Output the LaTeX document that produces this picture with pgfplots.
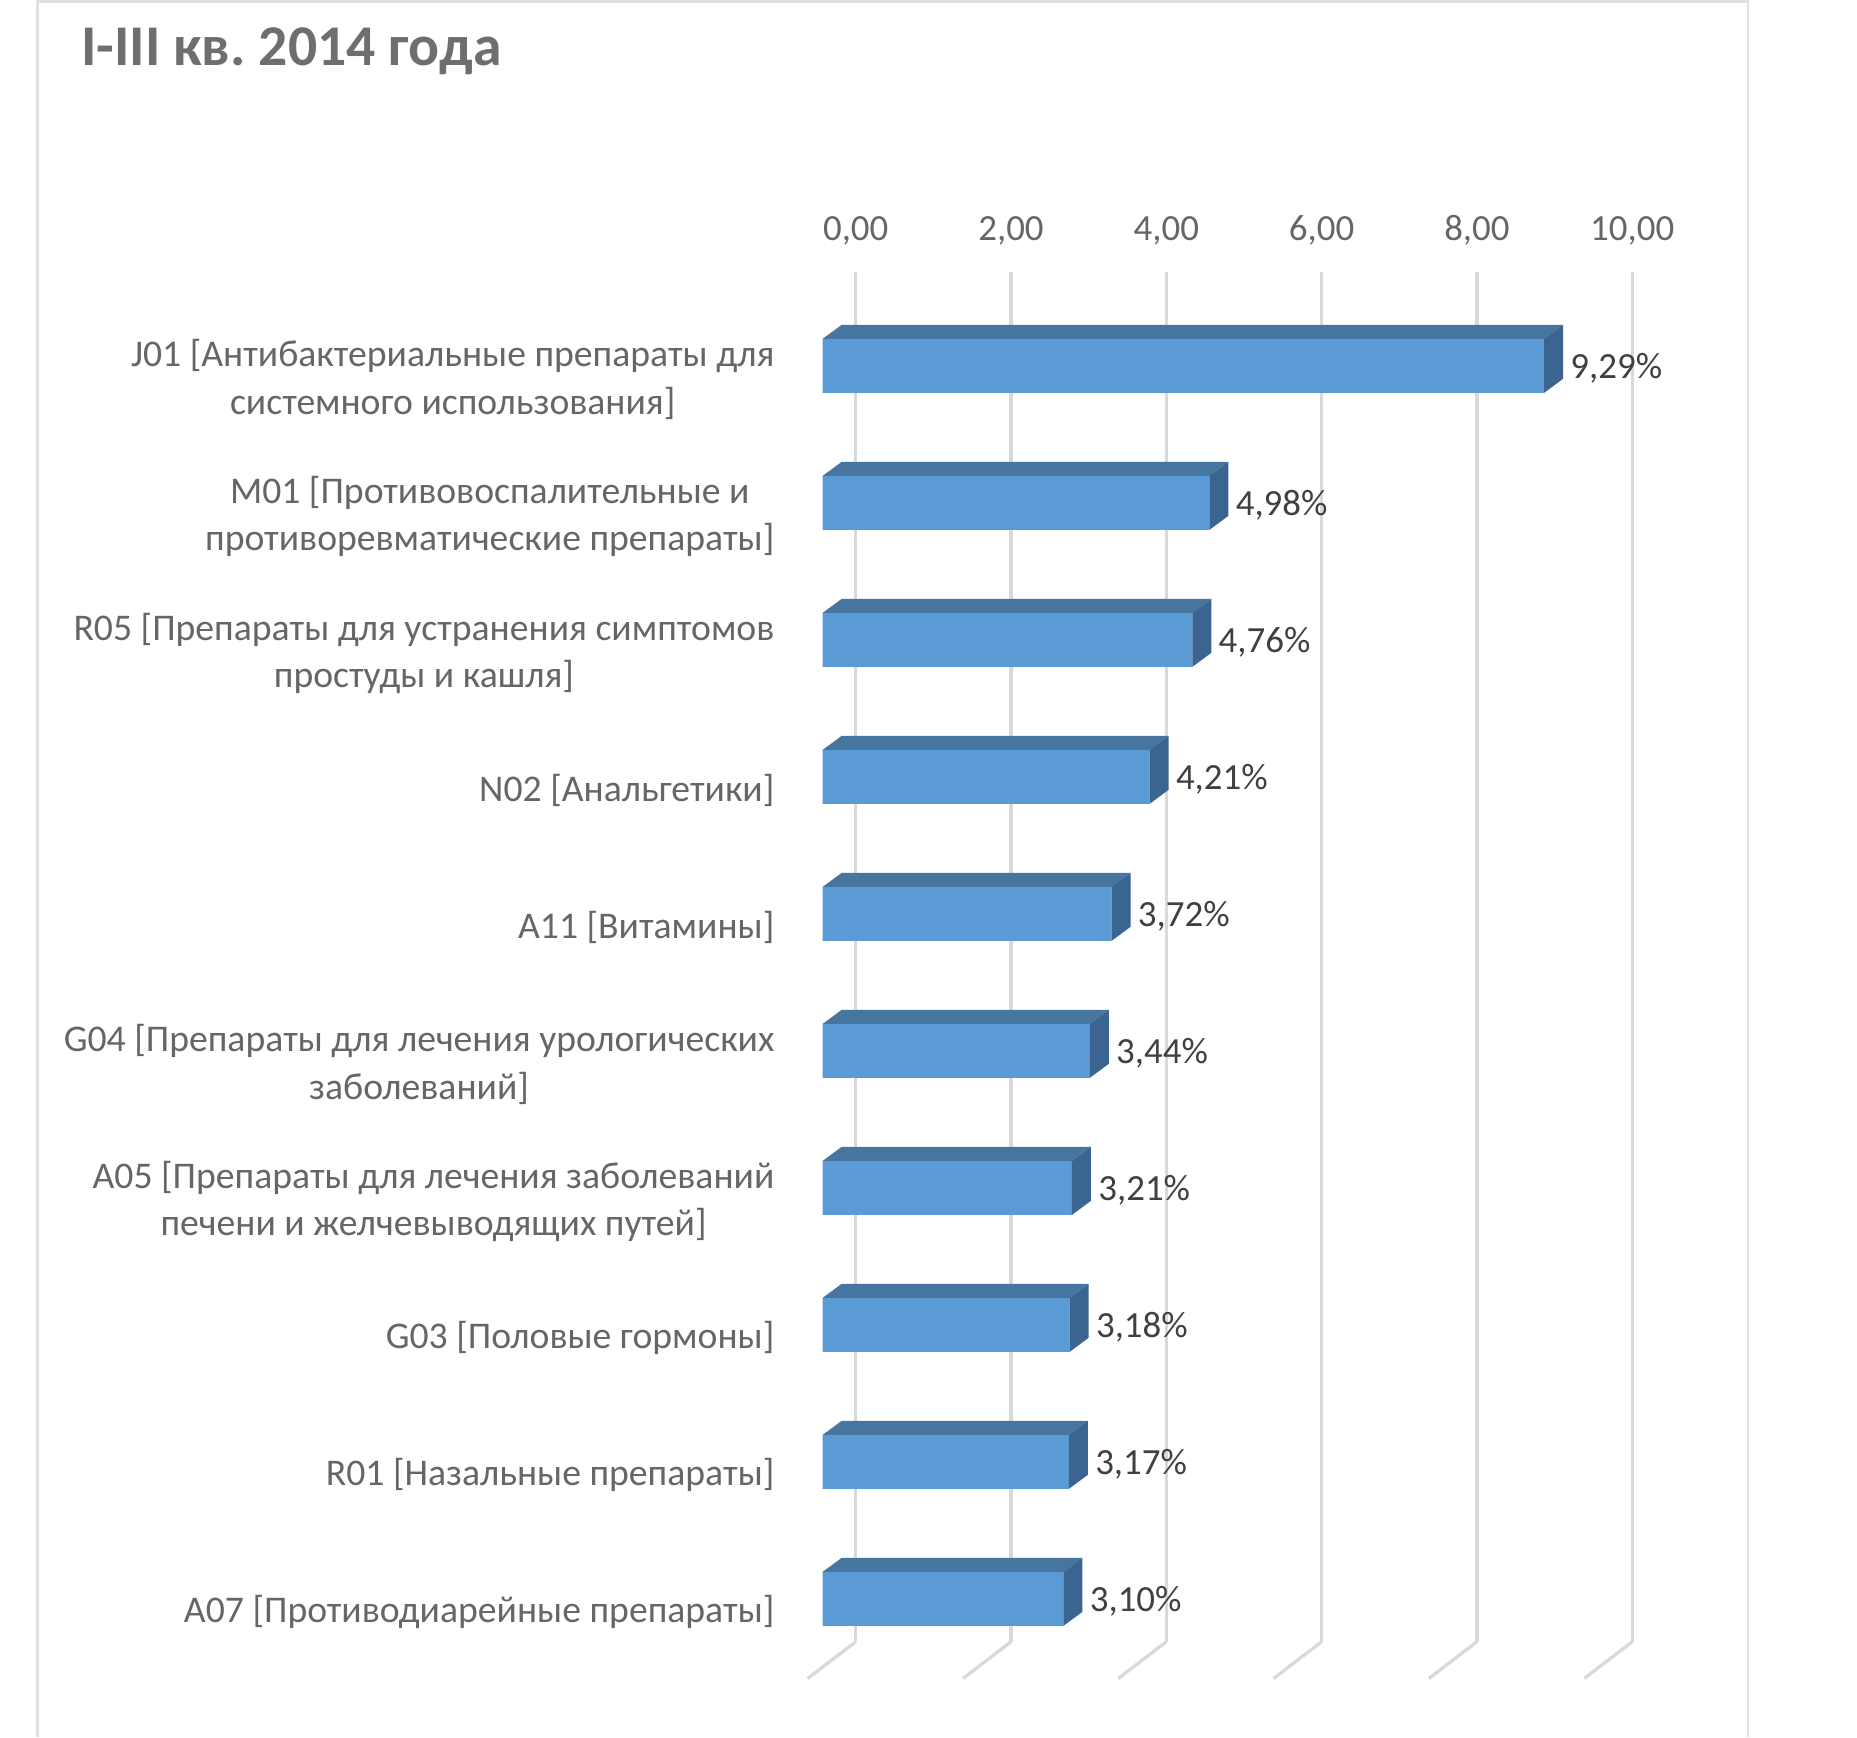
\documentclass[border=0pt]{standalone}
\usepackage{pgfplots}
\pgfplotsset{compat=1.18}
\usepackage{pgfplotstable}
\usepackage{fontspec}
\setmainfont{Carlito}
\frenchspacing
\definecolor{frontc}{HTML}{5B9BD5}
\definecolor{topc}{HTML}{4675A0}
\definecolor{sidec}{HTML}{3B6590}
\definecolor{gridc}{HTML}{D9D9D9}
\definecolor{framec}{HTML}{E0E0E0}
\definecolor{labc}{HTML}{666666}
\definecolor{valc}{HTML}{404040}
\definecolor{titlec}{HTML}{6E6E6E}

\pgfplotstableread{
i v
1 9.29
2 4.98
3 4.76
4 4.21
5 3.72
6 3.44
7 3.21
8 3.18
9 3.17
10 3.10
}\datatab

% top and side faces of a 3D bar, drawn at the front face's right-centre point
\pgfdeclareplotmark{box3d}{%
  \pgfmathsetlengthmacro\barlen{\rawv*7.765mm}%
  \pgfsetfillcolor{topc}%
  \pgfpathmoveto{\pgfpoint{-\barlen}{2.7mm}}%
  \pgfpathlineto{\pgfpoint{0pt}{2.7mm}}%
  \pgfpathlineto{\pgfpoint{1.9mm}{4.1mm}}%
  \pgfpathlineto{\pgfpoint{1.9mm-\barlen}{4.1mm}}%
  \pgfpathclose
  \pgfusepath{fill}%
  \pgfsetfillcolor{sidec}%
  \pgfpathmoveto{\pgfpoint{0pt}{2.7mm}}%
  \pgfpathlineto{\pgfpoint{1.9mm}{4.1mm}}%
  \pgfpathlineto{\pgfpoint{1.9mm}{-1.3mm}}%
  \pgfpathlineto{\pgfpoint{0pt}{-2.7mm}}%
  \pgfpathclose
  \pgfusepath{fill}%
}

\begin{document}
\begin{tikzpicture}
\useasboundingbox (0,0) rectangle (185.7mm,-173.7mm);
\fill[white] (0,0) rectangle (185.7mm,-173.7mm);
\draw[framec, line width=0.25mm] (3.76mm,-173.7mm) -- (3.76mm,-0.15mm) -- (174.8mm,-0.15mm) -- (174.8mm,-173.7mm);
\node[anchor=base west, inner sep=0pt, font=\fontsize{16.4pt}{19pt}\selectfont\bfseries, text=titlec] at (8.05mm,-6.5mm) {I-III кв. 2014 года};
\begin{axis}[
  at={(85.57mm,-164.17mm)}, anchor=south west,
  scale only axis, width=77.65mm, height=137mm,
  xmin=0, xmax=10, ymin=0.5, ymax=10.5, y dir=reverse,
  axis line style={draw=none},
  major tick length=0pt, tick style={draw=none},
  xtick={0,2,4,6,8,10},
  xticklabels={{0,00},{2,00},{4,00},{6,00},{8,00},{10,00}},
  xticklabel pos=upper,
  xticklabel style={anchor=base, yshift=3.17mm, inner sep=0pt, font=\fontsize{10.5pt}{12.8pt}\selectfont, text=labc},
  xmajorgrids, grid style={gridc, line width=0.33mm},
  ytick={1,2,3,4,5,6,7,8,9,10},
  yticklabels={
    {J01 [Антибактериальные препараты для\\системного использования]},
    {M01 [Противовоспалительные и\\противоревматические препараты]},
    {R05 [Препараты для устранения симптомов\\простуды и кашля]},
    {N02 [Анальгетики]},
    {A11 [Витамины]},
    {G04 [Препараты для лечения урологических\\заболеваний]},
    {A05 [Препараты для лечения заболеваний\\печени и желчевыводящих путей]},
    {G03 [Половые гормоны]},
    {R01 [Назальные препараты]},
    {A07 [Противодиарейные препараты]}},
  yticklabel style={anchor=east, align=center, inner sep=0pt, xshift=-8.07mm, yshift=-3.9mm, font=\fontsize{10.72pt}{13.5pt}\selectfont, text=labc},
  clip=false,
]
\pgfplotsinvokeforeach{0,2,4,6,8,10}{\draw[gridc, line width=0.33mm] (axis cs:#1,10.5) -- ++(-4.8mm,-3.67mm);}
\addplot[xbar, bar width=5.4mm, fill=frontc, draw=none, xshift=-3.3mm, yshift=-2.56mm] table[x=v,y=i]{\datatab};
\addplot[only marks, mark=box3d, xshift=-3.3mm, yshift=-2.56mm,
  point meta=x,
  visualization depends on={\thisrow{v} \as \rawv},
  nodes near coords={\pgfmathprintnumber[fixed, fixed zerofill, precision=2, use comma, assume math mode=true]{\pgfplotspointmeta}\%},
  every node near coord/.append style={anchor=west, inner sep=0pt, xshift=2.57mm, yshift=-0.25mm, text=valc, font=\fontsize{10.5pt}{12.8pt}\selectfont},
] table[x=v,y=i]{\datatab};
\end{axis}
\end{tikzpicture}
\end{document}
